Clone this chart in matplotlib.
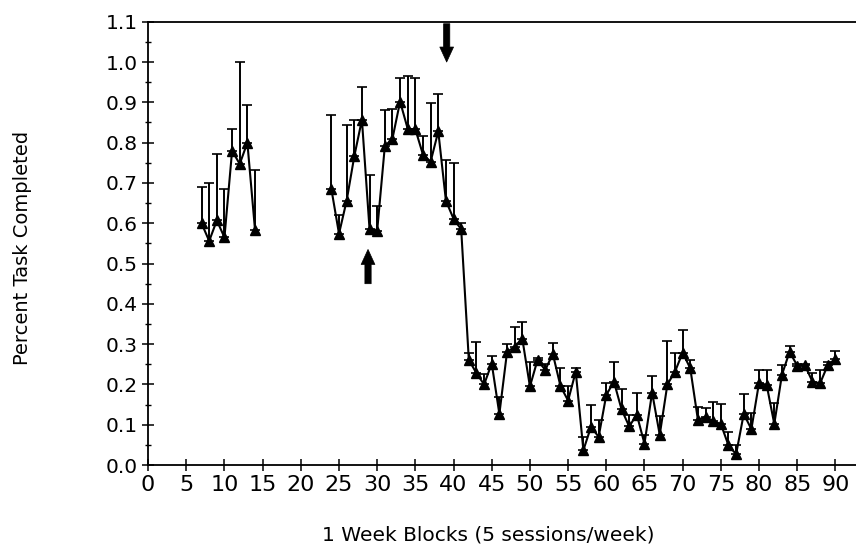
import numpy as np
import matplotlib
matplotlib.use("Agg")
import matplotlib.pyplot as plt
from matplotlib.ticker import MultipleLocator

# weekly blocks before the break
weeks_a = list(range(7, 15))
mean_a = [0.600, 0.556, 0.607, 0.565, 0.780, 0.747, 0.800, 0.584]
upper_a = [0.690, 0.700, 0.772, 0.685, 0.834, 0.999, 0.894, 0.731]

# weekly blocks after the break
weeks_b = list(range(24, 91))
mean_b = [0.685, 0.574, 0.656, 0.766, 0.857, 0.585, 0.582, 0.791, 0.810, 0.902,
          0.834, 0.833, 0.770, 0.753, 0.828, 0.656, 0.611, 0.585, 0.261, 0.228,
          0.200, 0.252, 0.127, 0.280, 0.294, 0.314, 0.195, 0.261, 0.236, 0.276,
          0.196, 0.160, 0.232, 0.037, 0.095, 0.070, 0.174, 0.207, 0.138, 0.096,
          0.125, 0.053, 0.180, 0.075, 0.200, 0.232, 0.279, 0.240, 0.112, 0.120,
          0.109, 0.102, 0.049, 0.027, 0.127, 0.089, 0.204, 0.199, 0.102, 0.224,
          0.281, 0.247, 0.248, 0.207, 0.203, 0.248, 0.263]
upper_b = [0.869, 0.620, 0.843, 0.857, 0.938, 0.720, 0.644, 0.882, 0.883, 0.960,
           0.966, 0.960, 0.817, 0.898, 0.920, 0.757, 0.749, 0.600, 0.277, 0.306,
           0.226, 0.270, 0.170, 0.300, 0.343, 0.356, 0.257, 0.266, 0.250, 0.304,
           0.240, 0.196, 0.240, 0.070, 0.149, 0.112, 0.204, 0.255, 0.190, 0.124,
           0.180, 0.074, 0.221, 0.121, 0.307, 0.277, 0.335, 0.261, 0.145, 0.142,
           0.157, 0.152, 0.081, 0.050, 0.177, 0.130, 0.235, 0.236, 0.153, 0.248,
           0.296, 0.250, 0.250, 0.228, 0.236, 0.255, 0.283]

# condition changes marked with arrows: (week, tail, head)
arrow_up = (28.8, 0.45, 0.535)
arrow_down = (39.1, 1.095, 1.0)

x_ticks = list(range(0, 91, 5))

fig = plt.figure(figsize=(8.56, 5.57), dpi=100)
ax = fig.add_axes([0.173, 0.165, 0.827, 0.796])

for wk, mn, up in [(weeks_a, mean_a, upper_a), (weeks_b, mean_b, upper_b)]:
    mn = np.array(mn)
    err = np.array(up) - mn
    ax.errorbar(wk, mn, yerr=[np.zeros_like(err), err], fmt='-^', color='black',
                lw=1.5, ms=6.5, elinewidth=1.4, capsize=3.5, capthick=1.2)

# solid filled arrows
for x, tail, head in [arrow_up, arrow_down]:
    ax.annotate('', xy=(x, head), xytext=(x, tail), annotation_clip=False,
                arrowprops=dict(arrowstyle='simple,head_width=0.55,head_length=0.6,tail_width=0.25',
                                fc='black', ec='black', lw=0.5, shrinkA=0, shrinkB=0,
                                mutation_scale=18))

ax.set_xlim(0, 92.7)
ax.set_ylim(0, 1.1)
ax.set_xticks(x_ticks)
ax.yaxis.set_major_locator(MultipleLocator(0.1))
ax.yaxis.set_minor_locator(MultipleLocator(0.05))
ax.set_yticklabels([f"{v:.1f}" for v in ax.get_yticks()])

ax.spines['right'].set_visible(False)
for s in ['left', 'bottom', 'top']:
    ax.spines[s].set_linewidth(1.3)

ax.tick_params(axis='both', which='major', direction='inout', length=8, width=1.1,
               colors='black')
ax.tick_params(axis='y', which='minor', direction='inout', length=4, width=1)
ax.tick_params(axis='x', pad=3)

for lbl in ax.get_xticklabels():
    lbl.set_family(['DejaVu Sans'])
    lbl.set_fontsize(16)
for lbl in ax.get_yticklabels():
    lbl.set_family(['DejaVu Sans'])
    lbl.set_fontsize(14.5)

fig.text(0.026, 0.555, 'Percent Task Completed', rotation=90, ha='center',
         va='center', fontsize=14, family='DejaVu Sans')
fig.text(0.57, 0.04, '1 Week Blocks (5 sessions/week)', ha='center',
         va='center', fontsize=14.5, family='DejaVu Sans')

fig.savefig('out.png', dpi=100)
